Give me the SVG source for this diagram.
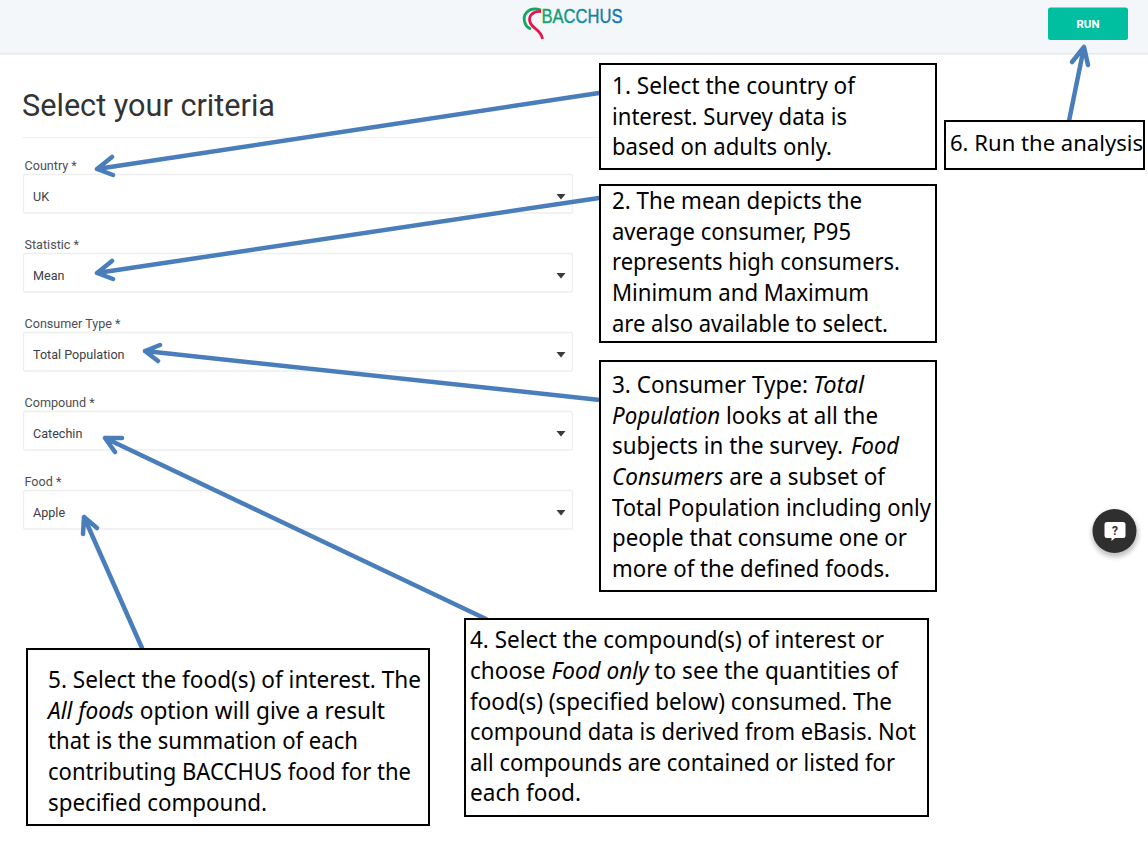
<svg xmlns="http://www.w3.org/2000/svg" width="1148" height="848" viewBox="0 0 1148 848">
<defs>
<linearGradient id="logo" x1="0" y1="0" x2="1" y2="0"><stop offset="0" stop-color="#12a860"/><stop offset=".5" stop-color="#128a96"/><stop offset="1" stop-color="#1272b8"/></linearGradient>
<filter id="soft" x="-30%" y="-30%" width="160%" height="160%"><feGaussianBlur stdDeviation="2.500"/></filter>
</defs>
<style>
.ui{font-family:Roboto,"Liberation Sans",sans-serif}
.lab{font-size:12.6px;fill:#4a4f55}
.val{font-size:12.6px;fill:#3c4046}
.field{fill:#fff;stroke:#eceef0;stroke-width:1.3}
.caret{fill:#3a3a3a}
.box{fill:#fff;stroke:#000;stroke-width:2}
.t{font-family:"Noto Sans","Open Sans",sans-serif;font-size:23.5px;fill:#000}
.i{font-style:italic}
.arrow{fill:none;stroke:#4a7ebb;stroke-width:4.500;stroke-linecap:round;stroke-linejoin:round}
</style>
<rect width="1148" height="848" fill="#fff"/>
<g id="header">
<rect width="1148" height="53" fill="#f4f7fa"/>
<rect y="53" width="1148" height="1.5" fill="#e6e8ea"/>
<path d="M541 10C528 6 522 15 525 23C526 26 528 28 531 29" fill="none" stroke="#12a860" stroke-width="2.800"/>
<path d="M541 11.500C533 11 528 16 530 22C532 29 541 29 542.500 39" fill="none" stroke="#e2174f" stroke-width="2.800"/>
<text x="541.500" y="23" font-family="'Liberation Sans',sans-serif" font-size="20.500" stroke="url(#logo)" stroke-width=".4" textLength="81" lengthAdjust="spacingAndGlyphs" fill="url(#logo)">BACCHUS</text>
</g>
<g id="run-button">
<rect x="1048" y="7.500" width="80" height="32.500" rx="2.500" fill="#00bfa0"/>
<text class="ui" x="1088" y="28" text-anchor="middle" font-size="11.500" font-weight="700" fill="#fff">RUN</text>
</g>
<g id="title">
<text class="ui" x="22" y="116" font-size="31" font-weight="400" fill="#333" textLength="253" lengthAdjust="spacingAndGlyphs">Select your criteria</text>
<rect x="22" y="137" width="906" height="1" fill="#f0f1f2"/>
</g>
<g id="country-field">
<text class="ui lab" x="24.500" y="169.500">Country *</text>
<rect class="field" x="23.500" y="174.500" width="549" height="38.500" rx="2"/>
<text class="ui val" x="33" y="200.500">UK</text>
<path class="caret" d="M556.500 194h9l-4.500 5.500z"/>
</g>
<g id="statistic-field">
<text class="ui lab" x="24.500" y="248.500">Statistic *</text>
<rect class="field" x="23.500" y="253.500" width="549" height="38.500" rx="2"/>
<text class="ui val" x="33" y="279.500">Mean</text>
<path class="caret" d="M556.500 273h9l-4.500 5.500z"/>
</g>
<g id="consumer-field">
<text class="ui lab" x="24.500" y="327.500">Consumer Type *</text>
<rect class="field" x="23.500" y="332.500" width="549" height="38.500" rx="2"/>
<text class="ui val" x="33" y="358.500">Total Population</text>
<path class="caret" d="M556.500 352h9l-4.500 5.500z"/>
</g>
<g id="compound-field">
<text class="ui lab" x="24.500" y="406.500">Compound *</text>
<rect class="field" x="23.500" y="411.500" width="549" height="38.500" rx="2"/>
<text class="ui val" x="33" y="437.500">Catechin</text>
<path class="caret" d="M556.500 431h9l-4.500 5.500z"/>
</g>
<g id="food-field">
<text class="ui lab" x="24.500" y="485.500">Food *</text>
<rect class="field" x="23.500" y="490.500" width="549" height="38.500" rx="2"/>
<text class="ui val" x="33" y="516.500">Apple</text>
<path class="caret" d="M556.500 510h9l-4.500 5.500z"/>
</g>
<g id="help-button">
<circle cx="1115" cy="534" r="23" fill="#000" opacity=".25" filter="url(#soft)"/>
<circle cx="1114.500" cy="531" r="22" fill="#2f2f2f"/>
<path d="M1107 522h16a2.500 2.500 0 0 1 2.500 2.500v11a2.500 2.500 0 0 1-2.500 2.500h-8l-3.500 3v-3h-4.500a2.500 2.500 0 0 1-2.500-2.500v-11a2.500 2.500 0 0 1 2.500-2.500z" fill="#fff"/>
<text class="ui" x="1115" y="535" text-anchor="middle" font-size="12" font-weight="700" fill="#2f2f2f">?</text>
</g>
<g id="connectors">
<path class="arrow" d="M599 93L97 169M112 157L97 169L113 175"/>
<path class="arrow" d="M599 198L97 273M112 261L97 273L113 279"/>
<path class="arrow" d="M600 400L145 351M160 345L145 351L158 361"/>
<path class="arrow" d="M486 619L105 438M122 438L105 438L115 452"/>
<path class="arrow" d="M142 648L84 517M83 534L84 517L97 528"/>
<path class="arrow" d="M1069 121L1084 47M1072 62L1084 47L1088 65"/>
</g>
<g id="note-1">
<rect class="box" x="600" y="64" width="336" height="105"/>
<text class="t" x="612" y="94" textLength="243" lengthAdjust="spacingAndGlyphs">1. Select the country of</text>
<text class="t" x="612" y="125" textLength="235" lengthAdjust="spacingAndGlyphs">interest. Survey data is</text>
<text class="t" x="612" y="155" textLength="220" lengthAdjust="spacingAndGlyphs">based on adults only.</text>
</g>
<g id="note-2">
<rect class="box" x="600" y="185" width="336" height="157"/>
<text class="t" x="612" y="209" textLength="250" lengthAdjust="spacingAndGlyphs">2. The mean depicts the</text>
<text class="t" x="612" y="240" textLength="239" lengthAdjust="spacingAndGlyphs">average consumer, P95</text>
<text class="t" x="612" y="270" textLength="288" lengthAdjust="spacingAndGlyphs">represents high consumers.</text>
<text class="t" x="612" y="301" textLength="257" lengthAdjust="spacingAndGlyphs">Minimum and Maximum</text>
<text class="t" x="612" y="332" textLength="276" lengthAdjust="spacingAndGlyphs">are also available to select.</text>
</g>
<g id="note-3">
<rect class="box" x="600" y="361" width="336" height="230"/>
<text class="t" x="612" y="393" textLength="196" lengthAdjust="spacingAndGlyphs">3. Consumer Type:</text>
<text class="t i" x="813" y="393" textLength="51" lengthAdjust="spacingAndGlyphs">Total</text>
<text class="t" x="612" y="424" textLength="266" lengthAdjust="spacingAndGlyphs"><tspan class="i">Population</tspan> looks at all the</text>
<text class="t" x="612" y="454" textLength="231" lengthAdjust="spacingAndGlyphs">subjects in the survey.</text>
<text class="t i" x="851" y="454" textLength="48" lengthAdjust="spacingAndGlyphs">Food</text>
<text class="t" x="612" y="485" textLength="273" lengthAdjust="spacingAndGlyphs"><tspan class="i">Consumers</tspan> are a subset of</text>
<text class="t" x="612" y="516" textLength="319" lengthAdjust="spacingAndGlyphs">Total Population including only</text>
<text class="t" x="612" y="546" textLength="295" lengthAdjust="spacingAndGlyphs">people that consume one or</text>
<text class="t" x="612" y="577" textLength="278" lengthAdjust="spacingAndGlyphs">more of the defined foods.</text>
</g>
<g id="note-4">
<rect class="box" x="465" y="619" width="463" height="197"/>
<text class="t" x="470" y="648" textLength="414" lengthAdjust="spacingAndGlyphs">4. Select the compound(s) of interest or</text>
<text class="t" x="470" y="679" textLength="428" lengthAdjust="spacingAndGlyphs">choose <tspan class="i">Food only</tspan> to see the quantities of</text>
<text class="t" x="470" y="710" textLength="422" lengthAdjust="spacingAndGlyphs">food(s) (specified below) consumed. The</text>
<text class="t" x="470" y="740" textLength="446" lengthAdjust="spacingAndGlyphs">compound data is derived from eBasis.  Not</text>
<text class="t" x="470" y="771" textLength="425" lengthAdjust="spacingAndGlyphs">all compounds are contained or listed for</text>
<text class="t" x="470" y="801" textLength="111" lengthAdjust="spacingAndGlyphs">each food.</text>
</g>
<g id="note-5">
<rect class="box" x="27" y="649" width="402" height="176"/>
<text class="t" x="48" y="688" textLength="373" lengthAdjust="spacingAndGlyphs">5. Select the food(s) of interest. The</text>
<text class="t" x="48" y="719" textLength="337" lengthAdjust="spacingAndGlyphs"><tspan class="i">All foods</tspan> option will give a result</text>
<text class="t" x="48" y="749" textLength="310" lengthAdjust="spacingAndGlyphs">that is the summation of each</text>
<text class="t" x="48" y="780" textLength="363" lengthAdjust="spacingAndGlyphs">contributing BACCHUS food for the</text>
<text class="t" x="48" y="811" textLength="219" lengthAdjust="spacingAndGlyphs">specified compound.</text>
</g>
<g id="note-6">
<rect class="box" x="945" y="121" width="199" height="48"/>
<text class="t" x="950" y="151" style="font-size:22.500px" textLength="193" lengthAdjust="spacingAndGlyphs">6. Run the analysis</text>
</g>
</svg>
